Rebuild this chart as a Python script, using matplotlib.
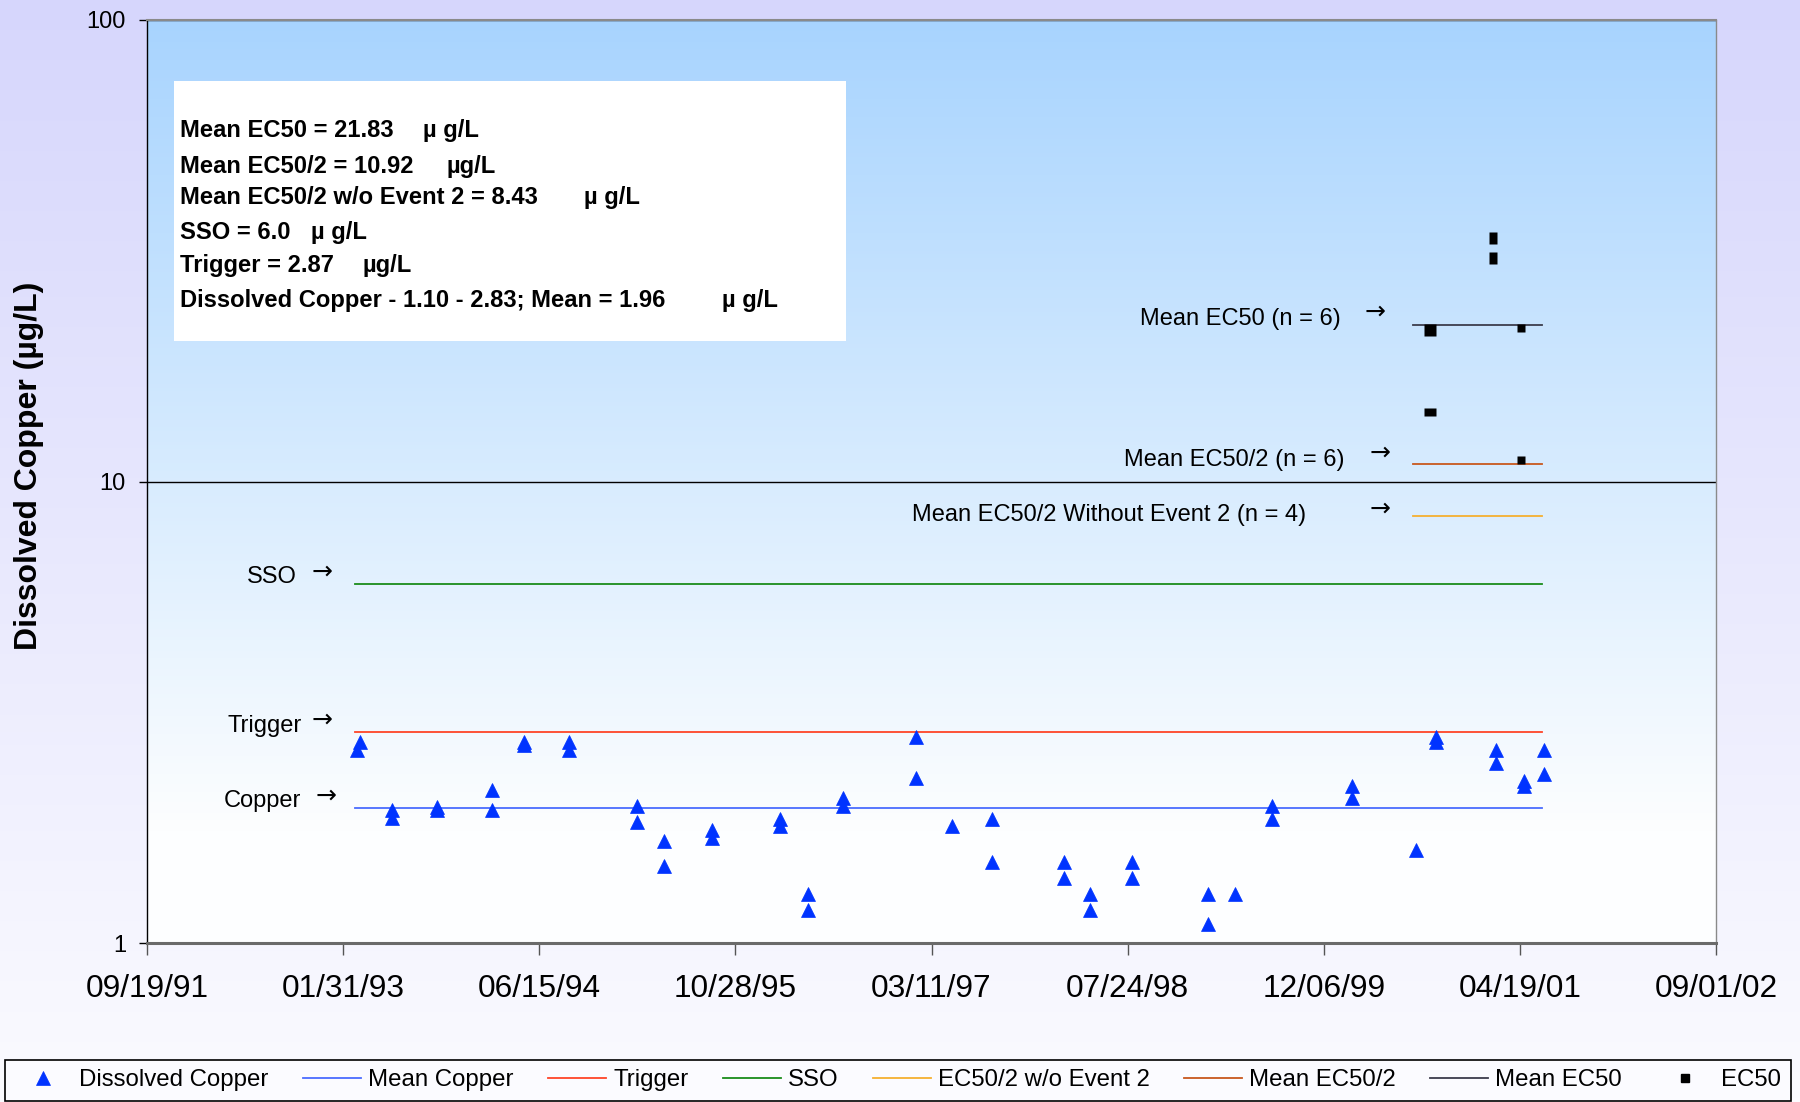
import numpy as np
import matplotlib
matplotlib.use("Agg")
import matplotlib.pyplot as plt
import matplotlib.dates as mdates
from matplotlib.patches import Rectangle
from matplotlib.path import Path
from matplotlib.lines import Line2D
from matplotlib.ticker import NullLocator

plt.rcParams['font.family'] = ['Liberation Sans', 'DejaVu Sans']

# ---------------- data ----------------
copper_dates = [
    '1993-03-15', '1993-03-07', '1993-06-04', '1993-06-04', '1993-09-27', '1993-09-27',
    '1994-02-15', '1994-02-15', '1994-05-08', '1994-05-08', '1994-08-29', '1994-08-29',
    '1995-02-18', '1995-02-18', '1995-04-30', '1995-04-30', '1995-08-30', '1995-08-30',
    '1996-02-19', '1996-02-19', '1996-05-01', '1996-05-01', '1996-07-29', '1996-07-29',
    '1997-01-31', '1997-01-31', '1997-05-02', '1997-08-12', '1997-08-12',
    '1998-02-12', '1998-02-12', '1998-04-19', '1998-04-19', '1998-08-03', '1998-08-03',
    '1999-02-14', '1999-02-14', '1999-04-25', '1999-07-26', '1999-07-26',
    '2000-02-15', '2000-02-15', '2000-07-27', '2000-09-16', '2000-09-16',
    '2001-02-16', '2001-02-16', '2001-04-29', '2001-04-29', '2001-06-19', '2001-06-19',
]
copper_values = [
    2.73, 2.62, 1.94, 1.87, 1.97, 1.94,
    2.15, 1.94, 2.72, 2.68, 2.72, 2.62,
    1.98, 1.83, 1.66, 1.47, 1.76, 1.69,
    1.86, 1.79, 1.28, 1.18, 2.06, 1.98,
    2.80, 2.28, 1.79, 1.86, 1.50,
    1.50, 1.38, 1.28, 1.18, 1.50, 1.38,
    1.28, 1.10, 1.28, 1.98, 1.86,
    2.19, 2.06, 1.59, 2.80, 2.73,
    2.62, 2.46, 2.24, 2.19, 2.62, 2.32,
]

mean_copper = 1.96
trigger = 2.87
sso = 6.0
mean_ec50 = 21.83
mean_ec50_half = 10.92
mean_ec50_half_wo_event2 = 8.43

criteria_span = ['1993-03-01', '2001-06-15']
ec50_span = ['2000-07-21', '2001-06-15']

ec50_dates = ['2000-09-03', '2000-09-03', '2001-02-09', '2001-02-09', '2001-04-21', '2001-04-21']
ec50_values = [21.30, 14.16, 33.70, 30.50, 21.53, 11.13]

x_start = '1991-09-19'
x_end = '2002-09-01'
x_step_days = 500
y_ticks = [1, 10, 100]
y_ticklabels = ['1', '10', '100']

legend_labels = ['Dissolved Copper', 'Mean Copper', 'Trigger', 'SSO',
                 'EC50/2 w/o Event 2', 'Mean EC50/2', 'Mean EC50', 'EC50']

info_main = ['Mean EC50 = 21.83', 'Mean EC50/2 = 10.92', 'Mean EC50/2 w/o Event 2 = 8.43',
             'SSO = 6.0', 'Trigger = 2.87', 'Dissolved Copper - 1.10 - 2.83; Mean = 1.96']
info_units = ['µ g/L', 'µg/L', 'µ g/L', 'µ g/L', 'µg/L', 'µ g/L']

y_label = 'Dissolved Copper (µg/L)'

# ---------------- styles / layout ----------------
W, H = 1800, 1102
def fx(x):
    return x / W
def fy(y):
    return 1 - y / H

C_TRI = '#0033ff'
C_MEANCU = '#4a6cff'
C_TRIG = '#ff4528'
C_SSO = '#1a8c1a'
C_WO = '#f5b030'
C_HALF = '#c8581e'
C_EC50 = '#3c3c4c'

fig = plt.figure(figsize=(18, 11.02), dpi=100)

# figure background gradient
bg = fig.add_axes([0, 0, 1, 1], zorder=-10)
t = np.linspace(0, 1, 256)[:, None, None]
top = np.array([214, 214, 252]) / 255.0
bot = np.array([251, 251, 255]) / 255.0
bg.imshow(top + (bot - top) * t, aspect='auto', extent=[0, 1, 0, 1], origin='upper')
bg.axis('off')

ax_rect = [fx(147), fy(943), (1716 - 147) / W, (943 - 20) / H]

# plot-area gradient
ga = fig.add_axes(ax_rect, zorder=-5)
t2 = np.clip(np.linspace(0, 1, 256) / 0.88, 0, 1)[:, None, None]
ptop = np.array([168, 212, 254]) / 255.0
pbot = np.array([253, 254, 255]) / 255.0
ga.imshow(ptop + (pbot - ptop) * t2, aspect='auto', extent=[0, 1, 0, 1], origin='upper')
ga.axis('off')

ax = fig.add_axes(ax_rect, zorder=0)
ax.set_facecolor('none')
ax.set_yscale('log')

cd = np.array(copper_dates, dtype='datetime64[D]')
span = np.array(criteria_span, dtype='datetime64[D]')
espan = np.array(ec50_span, dtype='datetime64[D]')
ed = np.array(ec50_dates, dtype='datetime64[D]')

lw = 1.3
h_cu, = ax.plot(span, [mean_copper] * 2, color=C_MEANCU, lw=lw, zorder=2)
h_tr, = ax.plot(span, [trigger] * 2, color=C_TRIG, lw=lw, zorder=2)
h_sso, = ax.plot(span, [sso] * 2, color=C_SSO, lw=lw, zorder=2)
h_wo, = ax.plot(espan, [mean_ec50_half_wo_event2] * 2, color=C_WO, lw=lw, zorder=2)
h_half, = ax.plot(espan, [mean_ec50_half] * 2, color=C_HALF, lw=lw, zorder=2)
h_ec, = ax.plot(espan, [mean_ec50] * 2, color=C_EC50, lw=lw, zorder=2)

h_tri, = ax.plot(cd, copper_values, ls='none', marker='^', ms=9.4,
                 mfc=C_TRI, mec=C_TRI, mew=0.5, zorder=3)

ec50_marker_wh = [(12, 12), (12, 8), (8, 12), (8, 12), (8, 8), (8, 8)]
for d, v, (w, h) in zip(ed, ec50_values, ec50_marker_wh):
    verts = [(-w / 2, -h / 2), (w / 2, -h / 2), (w / 2, h / 2), (-w / 2, h / 2), (-w / 2, -h / 2)]
    ax.plot([d], [v], ls='none', marker=Path(verts), ms=max(w, h) * 0.72,
            mfc='black', mec='none', zorder=4)
h_sq = Line2D([], [], ls='none', marker='s', ms=6, mfc='black', mec='black')

x0 = np.datetime64(x_start)
x1 = np.datetime64(x_end)
ax.set_xlim(x0, x1)
ax.set_ylim(1, 100)
xt = np.arange(x0, x1 + np.timedelta64(1, 'D'), np.timedelta64(x_step_days, 'D'))
ax.set_xticks(xt)
ax.xaxis.set_major_formatter(mdates.DateFormatter('%m/%d/%y'))
ax.set_yticks(y_ticks)
ax.set_yticklabels(y_ticklabels)
ax.yaxis.set_minor_locator(NullLocator())
ax.xaxis.set_minor_locator(NullLocator())

ax.tick_params(axis='x', direction='out', length=8.6, width=1, color='#555555',
               labelsize=22.8, pad=13.5)
ax.tick_params(axis='y', direction='out', length=5.8, width=1, color='black',
               labelsize=17, pad=9.4)

ax.yaxis.grid(True, color='black', lw=1)
ax.set_axisbelow(True)

ax.spines['left'].set_color('black')
ax.spines['left'].set_linewidth(1)
ax.spines['bottom'].set_color('#6a6a6a')
ax.spines['bottom'].set_linewidth(2.2)
ax.spines['top'].set_color('#8a8a8a')
ax.spines['top'].set_linewidth(1.5)
ax.spines['right'].set_color('#8a8a8a')
ax.spines['right'].set_linewidth(1)

# y label
fig.text(fx(29), fy(466), y_label, rotation=90, fontsize=23, fontweight='bold',
         ha='center', va='center')

# info box
fig.add_artist(Rectangle((fx(174), fy(340.7)), (845.6 - 174) / W, (340.7 - 81) / H,
                         transform=fig.transFigure, fc='white', ec='none', zorder=1))
info_base = [136.7, 172.7, 204, 239.3, 271.7, 307.3]
unit_x = [423, 446.6, 583.8, 310.6, 362.8, 722.2]
for txt, unit, yb, ux in zip(info_main, info_units, info_base, unit_x):
    fig.text(fx(179.7), fy(yb), txt, fontsize=17.1, fontweight='bold', ha='left',
             va='baseline', zorder=2)
    fig.text(fx(ux), fy(yb), unit, fontsize=17.1, fontweight='bold', ha='left',
             va='baseline', zorder=2)

# annotations with arrows
annots = [
    ('Mean EC50 (n = 6)', 1341, 325, 1365, 312),
    ('Mean EC50/2 (n = 6)', 1345, 466, 1370, 452.5),
    ('Mean EC50/2 Without Event 2 (n = 4)', 1306, 521, 1370, 508.5),
    ('SSO', 296.6, 583, 312, 571.5),
    ('Trigger', 302, 731.7, 312, 719.5),
    ('Copper', 301, 807, 316, 795.5),
]
for txt, xr, yb, xa, ya in annots:
    fig.text(fx(xr), fy(yb), txt, fontsize=17, ha='right', va='baseline', zorder=2)
    fig.text(fx(xa), fy(ya), '\u2192', fontsize=18, family='DejaVu Sans',
             ha='left', va='center', zorder=2)

# legend
handles = [h_tri, h_cu, h_tr, h_sso, h_wo, h_half, h_ec, h_sq]
leg = fig.legend(handles, legend_labels, loc='lower left',
                 bbox_to_anchor=(fx(5), fy(1101), (1791 - 5) / W, 44 / H),
                 mode='expand', ncol=8, fontsize=17.3, frameon=True, fancybox=False,
                 edgecolor='black', facecolor='#fbfbff', framealpha=1,
                 handlelength=2.4, handletextpad=0.3, borderpad=0.4, borderaxespad=0)
leg.get_frame().set_linewidth(1.2)

fig.savefig('out.png', dpi=100)
